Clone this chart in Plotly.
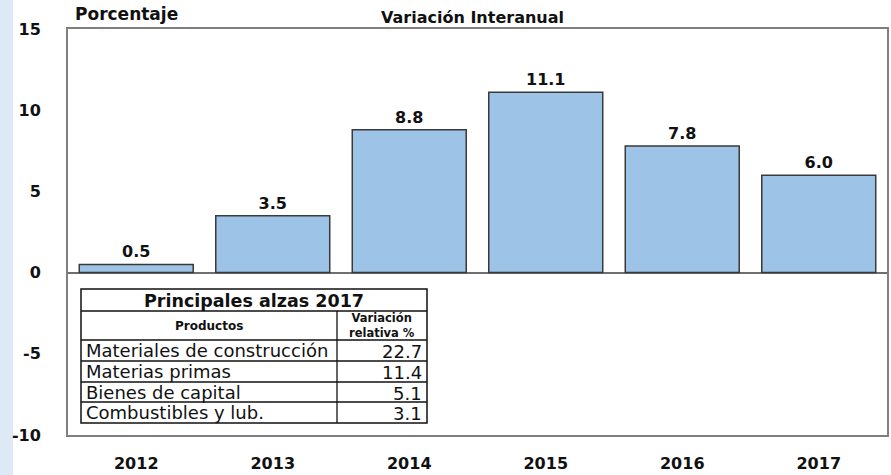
import plotly.graph_objects as go

# ---- data ----
years = ["2012", "2013", "2014", "2015", "2016", "2017"]
variacion = [0.5, 3.5, 8.8, 11.1, 7.8, 6.0]
y_ticks = [-10, -5, 0, 5, 10, 15]
y_tick_labels = ["-10", "-5", "0", "5", "10", "15"]

tabla_titulo = "Principales alzas 2017"
tabla_productos = ["Materiales de construcción", "Materias primas", "Bienes de capital", "Combustibles y lub."]
tabla_valores = [22.7, 11.4, 5.1, 3.1]

# ---- layout geometry (pixels) ----
WIDTH, HEIGHT = 891, 475
L, R, T, B = 68, 887, 29, 435
PW, PH = R - L, B - T

BOLD = "DejaVu Sans"


def px(x):
    return (x - L) / PW


def py(y):
    return (B - y) / PH


fig = go.Figure()
fig.add_trace(go.Bar(
    x=years, y=variacion,
    width=0.835,
    marker=dict(color="#9DC3E6", line=dict(color="#3A3A3A", width=1.5)),
    text=[f"{v:.1f}" for v in variacion],
    textposition="outside",
    textfont=dict(family=BOLD, size=16, color="#111111", weight="bold"),
    cliponaxis=False,
    hoverinfo="skip",
))

shapes = []
# left light-blue stripe
shapes.append(dict(type="rect", xref="paper", yref="paper",
                   x0=px(0), x1=px(13), y0=py(0), y1=py(HEIGHT),
                   fillcolor="#DEE9F6", line=dict(width=0), layer="below"))

# table
tl, tr, tc = 81, 427, 337
rows = [289, 311, 340, 361, 382, 402, 423]
shapes.append(dict(type="rect", xref="paper", yref="paper",
                   x0=px(tl), x1=px(tr), y0=py(rows[-1]), y1=py(rows[0]),
                   fillcolor="white", line=dict(color="#111111", width=1.5)))
for ry in rows[1:-1]:
    shapes.append(dict(type="line", xref="paper", yref="paper",
                       x0=px(tl), x1=px(tr), y0=py(ry), y1=py(ry),
                       line=dict(color="#111111", width=1.3)))
shapes.append(dict(type="line", xref="paper", yref="paper",
                   x0=px(tc), x1=px(tc), y0=py(rows[-1]), y1=py(rows[1]),
                   line=dict(color="#111111", width=1.3)))

annotations = []
annotations.append(dict(text=tabla_titulo, xref="paper", yref="paper",
                        x=px((tl + tr) / 2), y=py((rows[0] + rows[1]) / 2 + 1),
                        showarrow=False, xanchor="center", yanchor="middle",
                        font=dict(family=BOLD, size=17.5, color="#111111", weight="bold")))
annotations.append(dict(text="Productos", xref="paper", yref="paper",
                        x=px((tl + tc) / 2), y=py((rows[1] + rows[2]) / 2),
                        showarrow=False, xanchor="center", yanchor="middle",
                        font=dict(family=BOLD, size=12, color="#111111", weight="bold")))
annotations.append(dict(text="Variación<br>relativa %", xref="paper", yref="paper",
                        x=px((tc + tr) / 2), y=py((rows[1] + rows[2]) / 2),
                        showarrow=False, xanchor="center", yanchor="middle",
                        font=dict(family=BOLD, size=11.5, color="#111111", weight="bold")))
for i, (prod, val) in enumerate(zip(tabla_productos, tabla_valores)):
    yc = (rows[2 + i] + rows[3 + i]) / 2
    annotations.append(dict(text=prod, xref="paper", yref="paper",
                            x=px(tl + 3), y=py(yc), showarrow=False,
                            xanchor="left", yanchor="middle",
                            font=dict(family="DejaVu Sans", size=18, color="#111111")))
    annotations.append(dict(text=f"{val:.1f}", xref="paper", yref="paper",
                            x=px(tr - 3), y=py(yc + 1), showarrow=False,
                            xanchor="right", yanchor="middle",
                            font=dict(family="DejaVu Sans", size=18, color="#111111")))

# titles
annotations.append(dict(text="Porcentaje", xref="paper", yref="paper",
                        x=px(73), y=py(14), showarrow=False,
                        xanchor="left", yanchor="middle",
                        font=dict(family=BOLD, size=17, color="#111111", weight="bold")))
annotations.append(dict(text="Variación Interanual", xref="paper", yref="paper",
                        x=px(472), y=py(17), showarrow=False,
                        xanchor="center", yanchor="middle",
                        font=dict(family=BOLD, size=16, color="#111111", weight="bold")))

fig.update_layout(
    width=WIDTH, height=HEIGHT,
    margin=dict(l=L, r=WIDTH - R, t=T, b=HEIGHT - B, pad=0, autoexpand=False),
    paper_bgcolor="white", plot_bgcolor="white",
    showlegend=False,
    shapes=shapes, annotations=annotations,
    xaxis=dict(showgrid=False, showline=True, mirror=True, linecolor="#7F7F7F", linewidth=2,
               ticks="", ticklabelstandoff=13, automargin=False,
               tickfont=dict(family=BOLD, size=16, color="#111111", weight="bold")),
    yaxis=dict(range=[-10, 15], tickvals=y_ticks, ticktext=y_tick_labels, showgrid=False,
               showline=True, mirror=True, linecolor="#7F7F7F", linewidth=2,
               zeroline=True, zerolinecolor="#6F6F6F", zerolinewidth=2,
               ticks="", ticklabelstandoff=22, automargin=False,
               tickfont=dict(family=BOLD, size=16, color="#111111", weight="bold")),
)

fig.write_html("out.html", config={"displayModeBar": False},
               post_script="document.body.style.margin='0';document.body.style.overflow='hidden';")
